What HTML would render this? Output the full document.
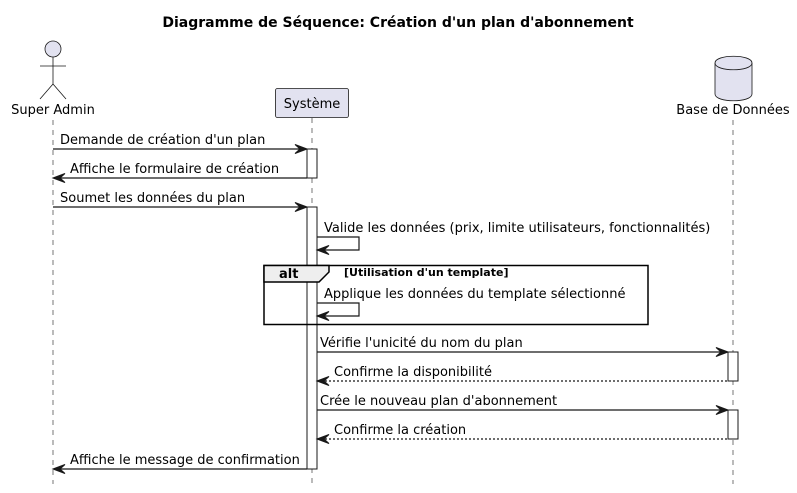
<!DOCTYPE html>
<html><head><meta charset="utf-8"><style>
html,body{margin:0;padding:0;background:#fff;}
svg{display:block;}
text{font-family:"DejaVu Sans","Liberation Sans",sans-serif;font-size:13px;fill:#000;}
</style></head><body>
<svg width="797" height="493" viewBox="0 0 797 493" xmlns="http://www.w3.org/2000/svg">
<text x="398" y="27" text-anchor="middle" style="font-weight:bold;font-size:14px">Diagramme de Séquence: Création d'un plan d'abonnement</text>
<g stroke="#555" stroke-width="0.8" stroke-dasharray="5,5">
<line x1="53" y1="120" x2="53" y2="484"/>
<line x1="312" y1="118" x2="312" y2="484"/>
<line x1="733" y1="120" x2="733" y2="484"/>
</g>
<g stroke="#181818" stroke-width="0.8" fill="none">
<circle cx="53" cy="49" r="8" fill="#E2E2F0"/>
<line x1="53" y1="57" x2="53" y2="84"/>
<line x1="40" y1="66" x2="66" y2="66"/>
<line x1="53" y1="84" x2="40" y2="99"/>
<line x1="53" y1="84" x2="66" y2="99"/>
</g>
<text x="53" y="114" text-anchor="middle">Super Admin</text>
<rect x="275.5" y="88.5" width="73" height="29" rx="2" fill="#E2E2F0" stroke="#181818" stroke-width="0.8"/>
<text x="312" y="108" text-anchor="middle">Système</text>
<path d="M715,63 C715,54 752,54 752,63 L752,94 C752,103 715,103 715,94 Z" fill="#E2E2F0" stroke="#181818" stroke-width="0.8"/>
<path d="M715,63 C715,72 752,72 752,63" fill="none" stroke="#181818" stroke-width="0.8"/>
<text x="733" y="114" text-anchor="middle">Base de Données</text>
<g fill="#fff" stroke="#181818" stroke-width="1">
<rect x="307" y="149" width="10" height="29"/>
<rect x="307" y="207" width="10" height="262"/>
<rect x="728" y="352" width="10" height="29"/>
<rect x="728" y="410" width="10" height="29"/>
</g>
<rect x="264" y="265.5" width="384" height="59" fill="none" stroke="#000" stroke-width="1.5"/>
<path d="M264,265.5 L329,265.5 L329,272 L319,282 L264,282 Z" fill="#EEEEEE" stroke="#000" stroke-width="1.5"/>
<text x="279" y="278" style="font-weight:bold">alt</text>
<text x="344" y="276" style="font-weight:bold;font-size:11px">[Utilisation d'un template]</text>
<g stroke="#181818" stroke-width="1.2" fill="none">
<line x1="53" y1="149" x2="303" y2="149"/>
<line x1="57" y1="178" x2="307" y2="178"/>
<line x1="53" y1="207" x2="303" y2="207"/>
<polyline points="317,237 359,237 359,250 321,250"/>
<polyline points="317,303 359,303 359,316 321,316"/>
<line x1="317" y1="352" x2="724" y2="352"/>
<line x1="321" y1="381" x2="728" y2="381" stroke-dasharray="2,2"/>
<line x1="317" y1="410" x2="724" y2="410"/>
<line x1="321" y1="439" x2="728" y2="439" stroke-dasharray="2,2"/>
<line x1="57" y1="469" x2="307" y2="469"/>
</g>
<g fill="#181818" stroke="#181818" stroke-width="1" stroke-linejoin="miter">
<polygon points="307,149 295,144.5 300,149 295,153.5"/>
<polygon points="53,178 65,173.5 60,178 65,182.5"/>
<polygon points="307,207 295,202.5 300,207 295,211.5"/>
<polygon points="317,250 329,245.5 324,250 329,254.5"/>
<polygon points="317,316 329,311.5 324,316 329,320.5"/>
<polygon points="728,352 716,347.5 721,352 716,356.5"/>
<polygon points="317,381 329,376.5 324,381 329,385.5"/>
<polygon points="728,410 716,405.5 721,410 716,414.5"/>
<polygon points="317,439 329,434.5 324,439 329,443.5"/>
<polygon points="53,469 65,464.5 60,469 65,473.5"/>
</g>
<text x="60" y="144">Demande de création d'un plan</text>
<text x="70" y="173">Affiche le formulaire de création</text>
<text x="60" y="202">Soumet les données du plan</text>
<text x="324" y="232">Valide les données (prix, limite utilisateurs, fonctionnalités)</text>
<text x="324" y="298">Applique les données du template sélectionné</text>
<text x="320" y="347">Vérifie l'unicité du nom du plan</text>
<text x="334" y="376">Confirme la disponibilité</text>
<text x="320" y="405">Crée le nouveau plan d'abonnement</text>
<text x="334" y="434">Confirme la création</text>
<text x="70" y="464">Affiche le message de confirmation</text>
</svg>
</body></html>
